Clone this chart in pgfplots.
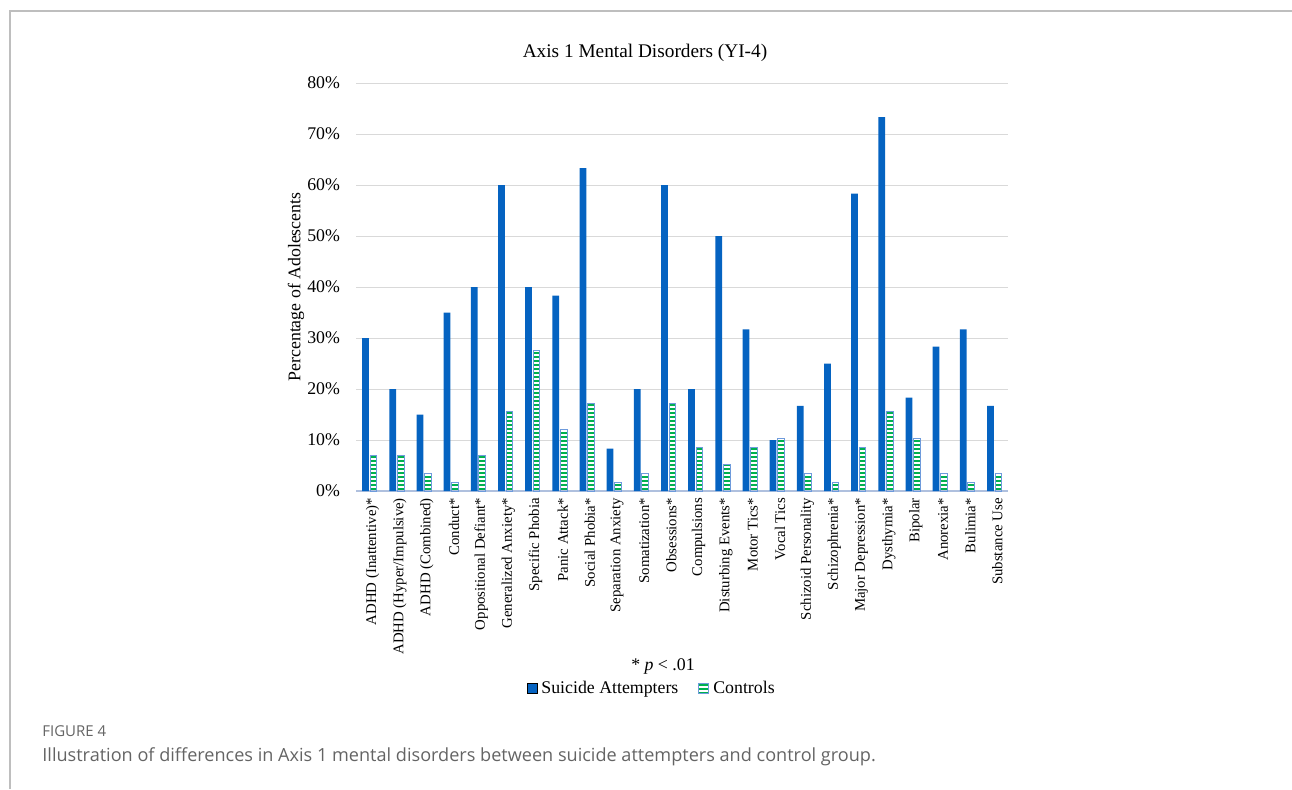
\documentclass[border=0pt]{standalone}
\usepackage{pgfplots}
\pgfplotsset{compat=1.18}
\usepackage{fontspec}
\setmainfont{Liberation Serif}
\newfontfamily\capfont{Open Sans}
\usetikzlibrary{patterns.meta}
\definecolor{attblue}{RGB}{5,99,193}
\definecolor{ctrlgreen}{RGB}{0,176,80}
\definecolor{ctrlblue}{RGB}{110,155,220}
\definecolor{gridgray}{RGB}{217,217,217}
\definecolor{axisblue}{RGB}{175,192,222}
\definecolor{framegray}{RGB}{190,190,190}
\definecolor{capgray}{RGB}{100,100,100}

\pgfplotstableread{
x att ctrl
0 30 6.9
1 20 6.9
2 15 3.4
3 35 1.7
4 40 6.9
5 60 15.5
6 40 27.6
7 38.3 12.1
8 63.3 17.2
9 8.3 1.7
10 20 3.4
11 60 17.2
12 20 8.6
13 50 5.2
14 31.7 8.6
15 10 10.3
16 16.7 3.4
17 25 1.7
18 58.3 8.6
19 73.3 15.5
20 18.3 10.3
21 28.3 3.4
22 31.7 1.7
23 16.7 3.4
}\datatable

\begin{document}
\begin{tikzpicture}
\useasboundingbox (0,0) rectangle (646pt,-394.5pt);
\draw[framegray, line width=1pt] (5pt,-394.5pt) -- (5pt,-5.5pt) -- (646pt,-5.5pt);
\begin{axis}[
  at={(178pt,-245.5pt)}, anchor=south west,
  scale only axis, width=326pt, height=204pt,
  xmin=-0.5, xmax=23.5, ymin=0, ymax=80,
  ytick={0,10,...,80},
  yticklabel={\pgfmathprintnumber{\tick}\%},
  /pgf/number format/assume math mode=true,
  ymajorgrids, grid style={gridgray, line width=0.5pt},
  axis x line*=bottom, axis y line*=left,
  y axis line style={draw=none},
  x axis line style={axisblue, line width=0.6pt},
  major tick length=0pt,
  xtick={0,...,23},
  xticklabels={ADHD (Inattentive)*,ADHD (Hyper/Impulsive),ADHD (Combined),Conduct*,Oppositional Defiant*,Generalized Anxiety*,Specific Phobia,Panic Attack*,Social Phobia*,Separation Anxiety,Somatization*,Obsessions*,Compulsions,Disturbing Events*,Motor Tics*,Vocal Tics,Schizoid Personality,Schizophrenia*,Major Depression*,Dysthymia*,Bipolar,Anorexia*,Bulimia*,Substance Use},
  x tick label style={rotate=90, anchor=east, font=\fontsize{7.4}{8}\selectfont, yshift=-1.5pt},
  y tick label style={font=\fontsize{8.9}{10}\selectfont, xshift=-4.5pt},
  ybar=0.6pt, bar width=3.4pt,
  legend style={at={(0.455,-0.485)}, anchor=center, draw=none, legend columns=2,
    font=\fontsize{8.9}{10}\selectfont, inner sep=1pt,
    /tikz/every even column/.append style={column sep=8pt}},
  legend image code/.code={\draw[#1] (0pt,-2.5pt) rectangle (5pt,2.5pt);},
]
\addplot[fill=attblue, draw=none] table[x=x, y=att] {\datatable};
\addlegendentry{Suicide Attempters}
\addplot[fill=white, pattern={Lines[angle=0, distance=2pt, line width=1pt]}, pattern color=ctrlgreen, draw=ctrlblue, line width=0.5pt] table[x=x, y=ctrl] {\datatable};
\addlegendentry{Controls}
\end{axis}
\node[font=\fontsize{9.65}{11}\selectfont] at (322.5pt,-26.5pt) {Axis 1 Mental Disorders (YI-4)};
\node[font=\fontsize{8.9}{10}\selectfont, rotate=90] at (148pt,-143.5pt) {Percentage of Adolescents};
\node[font=\fontsize{8.9}{10}\selectfont] at (331.5pt,-333pt) {* \textit{p} < .01};
\node[anchor=west, inner sep=0pt, font=\capfont\fontsize{7.5}{9}\selectfont, text=capgray] at (21pt,-365.5pt) {FIGURE 4};
\node[anchor=west, inner sep=0pt, font=\capfont\fontsize{9.05}{11}\selectfont, text=capgray] at (21pt,-378.5pt) {Illustration of differences in Axis 1 mental disorders between suicide attempters and control group.};
\end{tikzpicture}
\end{document}
